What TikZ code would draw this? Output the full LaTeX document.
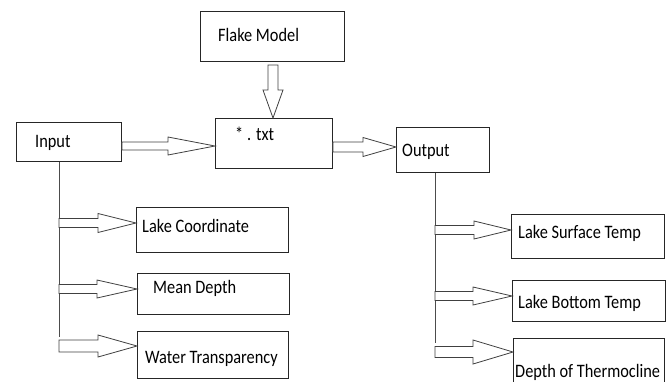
\documentclass[tikz,border=0pt]{standalone}
\usepackage{fontspec}
\usepackage{graphicx}
\setmainfont{Carlito}
\usetikzlibrary{calc}

\tikzset{
  box/.style={draw=black!85, line width=0.9pt, rectangle, inner sep=0pt, anchor=north west},
  lbl/.style={anchor=base west, inner sep=0pt, text=black},
  trunk/.style={draw=black!70, line width=0.9pt},
  hollow/.style={draw=black!75, line width=0.8pt, fill=white, line join=miter},
}

% label text: tall, slightly condensed
\newcommand\boxtext[1]{\scalebox{0.86}[1]{\fontsize{19}{21}\selectfont #1}}

% hollow block arrow running right from the x of #1 to the tip #2
% #3 shaft half height, #4 head half height, #5 head length
\newcommand\hollowarrow[5]{%
  \draw[hollow] let \p1=(#1), \p2=(#2) in
    (\x1,\y2+#3) -- (\x2-#5,\y2+#3) -- (\x2-#5,\y2+#4) -- (\x2,\y2)
    -- (\x2-#5,\y2-#4) -- (\x2-#5,\y2-#3) -- (\x1,\y2-#3) -- cycle;}

\begin{document}
\begin{tikzpicture}[x=1pt,y=-1pt]
\useasboundingbox (0,0) rectangle (671,381);
\clip (0,0) rectangle (671,381);

% boxes
\node[box, minimum width=144pt, minimum height=50pt] (flake)  at (200,11)  {};
\node[box, minimum width=117pt, minimum height=50pt] (txt)    at (215,118) {};
\node[box, minimum width=105pt, minimum height=39pt] (input)  at (16,122)  {};
\node[box, minimum width=93pt,  minimum height=45pt] (output) at (396,127) {};
\node[box, minimum width=152pt, minimum height=45pt] (coord)  at (136,207) {};
\node[box, minimum width=152pt, minimum height=41pt] (mdepth) at (137,273) {};
\node[box, minimum width=151pt, minimum height=47pt] (transp) at (137,331) {};
\node[box, minimum width=153pt, minimum height=44pt] (surf)   at (511,214) {};
\node[box, minimum width=153pt, minimum height=41pt] (bottom) at (512,280) {};
\node[box, minimum width=151pt, minimum height=60pt] (thermo) at (513,338) {};

% labels
\node[lbl] (flake-t)  at (218,41)  {\boxtext{Flake Model}};
\node[lbl] (txt-t)    at (235,140) {\boxtext{* . txt}};
\node[lbl] (input-t)  at (35,147)  {\boxtext{Input}};
\node[lbl] (output-t) at (402,156) {\boxtext{Output}};
\node[lbl] (coord-t)  at (142,232) {\boxtext{Lake Coordinate}};
\node[lbl] (mdepth-t) at (153,293) {\boxtext{Mean Depth}};
\node[lbl] (transp-t) at (145,363) {\boxtext{Water Transparency}};
\node[lbl] (surf-t)   at (518,238) {\boxtext{Lake Surface Temp}};
\node[lbl] (bottom-t) at (518,308) {\boxtext{Lake Bottom Temp}};
\node[lbl] (thermo-t) at (515,377) {\boxtext{Depth of Thermocline}};

% trunk lines
\coordinate (inBot)  at (59,337);
\coordinate (outBot) at (435,343);
\draw[trunk] (inBot |- input.south) -- (inBot);
\draw[trunk] (outBot |- output.south) -- (outBot);

% arrow tips
\coordinate (flakeTip)  at (273,118);
\coordinate (txtTip)    at (215,146);
\coordinate (outTip)    at (396,147);
\coordinate (coordTip)  at (136,223);
\coordinate (mdepthTip) at (137,289);
\coordinate (transpTip) at (137,346);
\coordinate (surfTip)   at (511,230);
\coordinate (bottomTip) at (512,296);
\coordinate (thermoTip) at (513,352);

% Flake Model down into the text file
\draw[hollow] let \p1=(flake.south), \p2=(flakeTip) in
  (\x2-5pt,\y1-3pt) -- (\x2+5pt,\y1-3pt) -- (\x2+5pt,\y2+28pt) -- (\x2+10pt,\y2+28pt)
  -- (\x2,\y2) -- (\x2-10pt,\y2+28pt) -- (\x2-5pt,\y2+28pt) -- cycle;

% main flow
\hollowarrow{input.east}{txtTip}{4pt}{9pt}{47pt}
\hollowarrow{txt.east}{outTip}{5pt}{9.5pt}{33pt}

% inputs
\hollowarrow{inBot}{coordTip}{4.5pt}{9.5pt}{38pt}
\hollowarrow{inBot}{mdepthTip}{4.5pt}{9pt}{40pt}
\hollowarrow{inBot}{transpTip}{6pt}{11pt}{39pt}

% outputs
\hollowarrow{outBot}{surfTip}{4.5pt}{9pt}{37pt}
\hollowarrow{outBot}{bottomTip}{4.5pt}{9pt}{39pt}
\hollowarrow{outBot}{thermoTip}{5.5pt}{12pt}{40pt}
\end{tikzpicture}
\end{document}
